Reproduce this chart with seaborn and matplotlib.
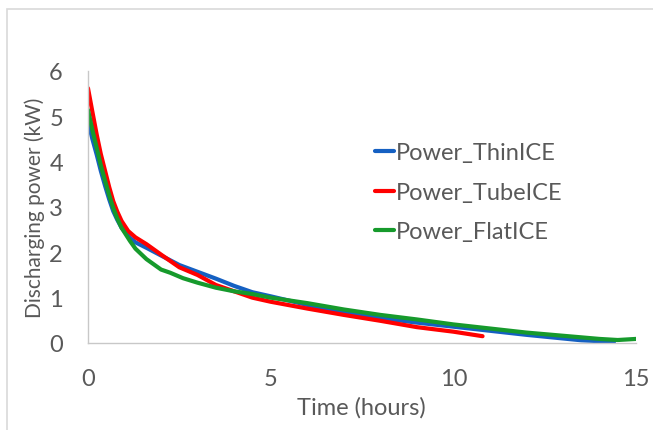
import numpy as np
import pandas as pd
import matplotlib
matplotlib.use("Agg")
import matplotlib.pyplot as plt
from matplotlib.patches import Rectangle
import seaborn as sns

# Discharging power curves (time in hours, power in kW)
thin_time = [0, 0.12, 0.24, 0.35, 0.47, 0.58, 0.69, 0.8, 0.92, 1.15, 1.3, 1.6, 2.0, 2.5,
             3.0, 3.5, 4.0, 4.5, 5.0, 6, 7, 8, 9, 10, 11, 12, 13, 13.5, 14, 14.4]
thin_power = [4.89, 4.5, 4.15, 3.8, 3.46, 3.17, 2.91, 2.72, 2.54, 2.32, 2.22, 2.10, 1.93, 1.72,
              1.57, 1.42, 1.26, 1.12, 1.03, 0.84, 0.68, 0.55, 0.45, 0.36, 0.27, 0.18, 0.10, 0.06, 0.04, 0.03]

tube_time = [0, 0.12, 0.24, 0.35, 0.47, 0.58, 0.69, 0.8, 0.92, 1.1, 1.3, 1.6, 2.0, 2.5,
             3.0, 3.5, 4.0, 4.5, 5.0, 6, 7, 8, 9, 10, 10.8]
tube_power = [5.62, 5.1, 4.59, 4.17, 3.79, 3.44, 3.13, 2.9, 2.69, 2.47, 2.33, 2.18, 1.95, 1.67,
              1.50, 1.28, 1.14, 1.00, 0.91, 0.76, 0.62, 0.49, 0.35, 0.25, 0.15]

flat_time = [0, 0.12, 0.24, 0.35, 0.47, 0.58, 0.69, 0.8, 0.92, 1.15, 1.3, 1.6, 2.0, 2.25, 2.6,
             3.0, 3.5, 4.0, 4.5, 5, 6, 7, 8, 9, 10, 11, 12, 13, 14, 14.5, 15]
flat_power = [5.14, 4.7, 4.3, 3.92, 3.57, 3.26, 2.98, 2.75, 2.54, 2.25, 2.08, 1.85, 1.62, 1.55, 1.43,
              1.33, 1.22, 1.14, 1.08, 1.0, 0.88, 0.74, 0.62, 0.52, 0.41, 0.32, 0.23, 0.16, 0.09, 0.066, 0.09]

series_names = ["Power_ThinICE", "Power_TubeICE", "Power_FlatICE"]
series_colors = ["#1560C2", "#FF0000", "#169A2C"]
x_ticks = [0, 5, 10, 15]
y_ticks = [0, 1, 2, 3, 4, 5, 6]

frames = []
for name, t, p in zip(series_names,
                      [thin_time, tube_time, flat_time],
                      [thin_power, tube_power, flat_power]):
    frames.append(pd.DataFrame({"Time": t, "Power": p, "Series": name}))
df = pd.concat(frames, ignore_index=True)

sns.set_theme(style="white")
plt.rcParams["font.family"] = ["Lato", "DejaVu Sans"]

text_color = "#595959"
axis_color = "#C8C8C8"
fs = 17

fig = plt.figure(figsize=(6.53, 4.31), dpi=100)
ax = fig.add_axes([88 / 653, 1 - 344 / 431, (636 - 88) / 653, (344 - 72) / 431])

sns.lineplot(data=df, x="Time", y="Power", hue="Series", hue_order=series_names,
             palette=series_colors, linewidth=3.0, sort=False, estimator=None, ax=ax)

ax.set_xlim(0, 15)
ax.set_ylim(0, 6)
ax.set_xticks(x_ticks)
ax.set_yticks(y_ticks)
ax.tick_params(axis="x", length=0, pad=18, labelsize=fs, labelcolor=text_color)
ax.tick_params(axis="y", length=0, pad=18, labelsize=fs, labelcolor=text_color)
for side in ["top", "right"]:
    ax.spines[side].set_visible(False)
for side in ["left", "bottom"]:
    ax.spines[side].set_color(axis_color)
    ax.spines[side].set_linewidth(1.0)
ax.grid(False)

ax.set_xlabel("")
ax.set_ylabel("")
fig.text(361 / 653, 1 - 408 / 431, "Time (hours)", ha="center", va="center",
         fontsize=fs, color=text_color)
fig.text(35 / 653, 1 - 208 / 431, "Discharging power (kW)", ha="center", va="center",
         rotation=90, fontsize=15, color=text_color)

leg = ax.legend(title=None, frameon=False, fontsize=fs, loc="upper left",
                bbox_to_anchor=(366 / 653, 1 - 134 / 431), bbox_transform=fig.transFigure,
                handlelength=0.8, handletextpad=0.08, labelspacing=0.78, borderaxespad=0)
for txt in leg.get_texts():
    txt.set_color(text_color)
for line in leg.get_lines():
    line.set_linewidth(3.0)

# outer chart border
fig.patches.append(Rectangle((7 / 653, -0.1), 1.2, 1 - 10 / 431 + 0.1,
                             transform=fig.transFigure, fill=False,
                             edgecolor="#D9D9D9", linewidth=1.2))

fig.savefig("out.png", dpi=100)
